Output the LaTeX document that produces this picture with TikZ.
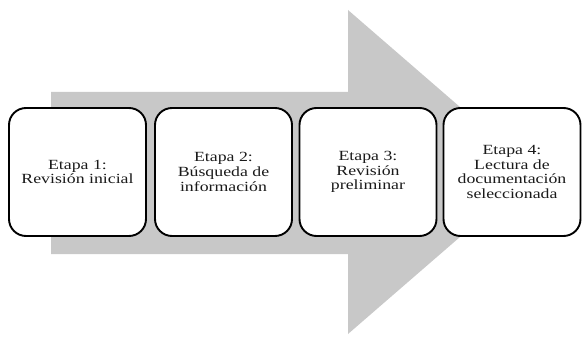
\documentclass[tikz,border=0pt]{standalone}
\usepackage{fontspec}
\setmainfont{Liberation Serif}[FakeStretch=1.27]
\definecolor{arrowgrey}{HTML}{C8C8C8}
\definecolor{textgrey}{HTML}{1A1A1A}
\tikzset{
  stagebox/.style={draw=black, line width=1.9pt, rounded corners=17pt, fill=white,
    minimum width=137pt, minimum height=128pt, align=center, inner sep=0pt,
    font=\fontsize{14}{14.6}\selectfont, text=textgrey},
  bigarrow/.style={fill=arrowgrey, draw=none}
}
\begin{document}
\begin{tikzpicture}[x=1pt, y=-1pt]
\useasboundingbox (0,0) rectangle (582,337);
% large background arrow
\coordinate (a1) at (51,92);
\coordinate (a2) at (348,92);
\coordinate (a3) at (348,10);
\coordinate (a4) at (535,172);
\coordinate (a5) at (348,334);
\coordinate (a6) at (348,254);
\coordinate (a7) at (51,254);
\fill[bigarrow] (a1) -- (a2) -- (a3) -- (a4) -- (a5) -- (a6) -- (a7) -- cycle;
% stages
\node[stagebox] (s1) at (77.5,172) {Etapa 1:\\Revisión inicial};
\node[stagebox] (s2) at (223.5,172) {Etapa 2:\\Búsqueda de\\información};
\node[stagebox] (s3) at (368,172) {Etapa 3:\\Revisión\\preliminar};
\node[stagebox] (s4) at (512,172) {Etapa 4:\\Lectura de\\documentación\\seleccionada};
\end{tikzpicture}
\end{document}
